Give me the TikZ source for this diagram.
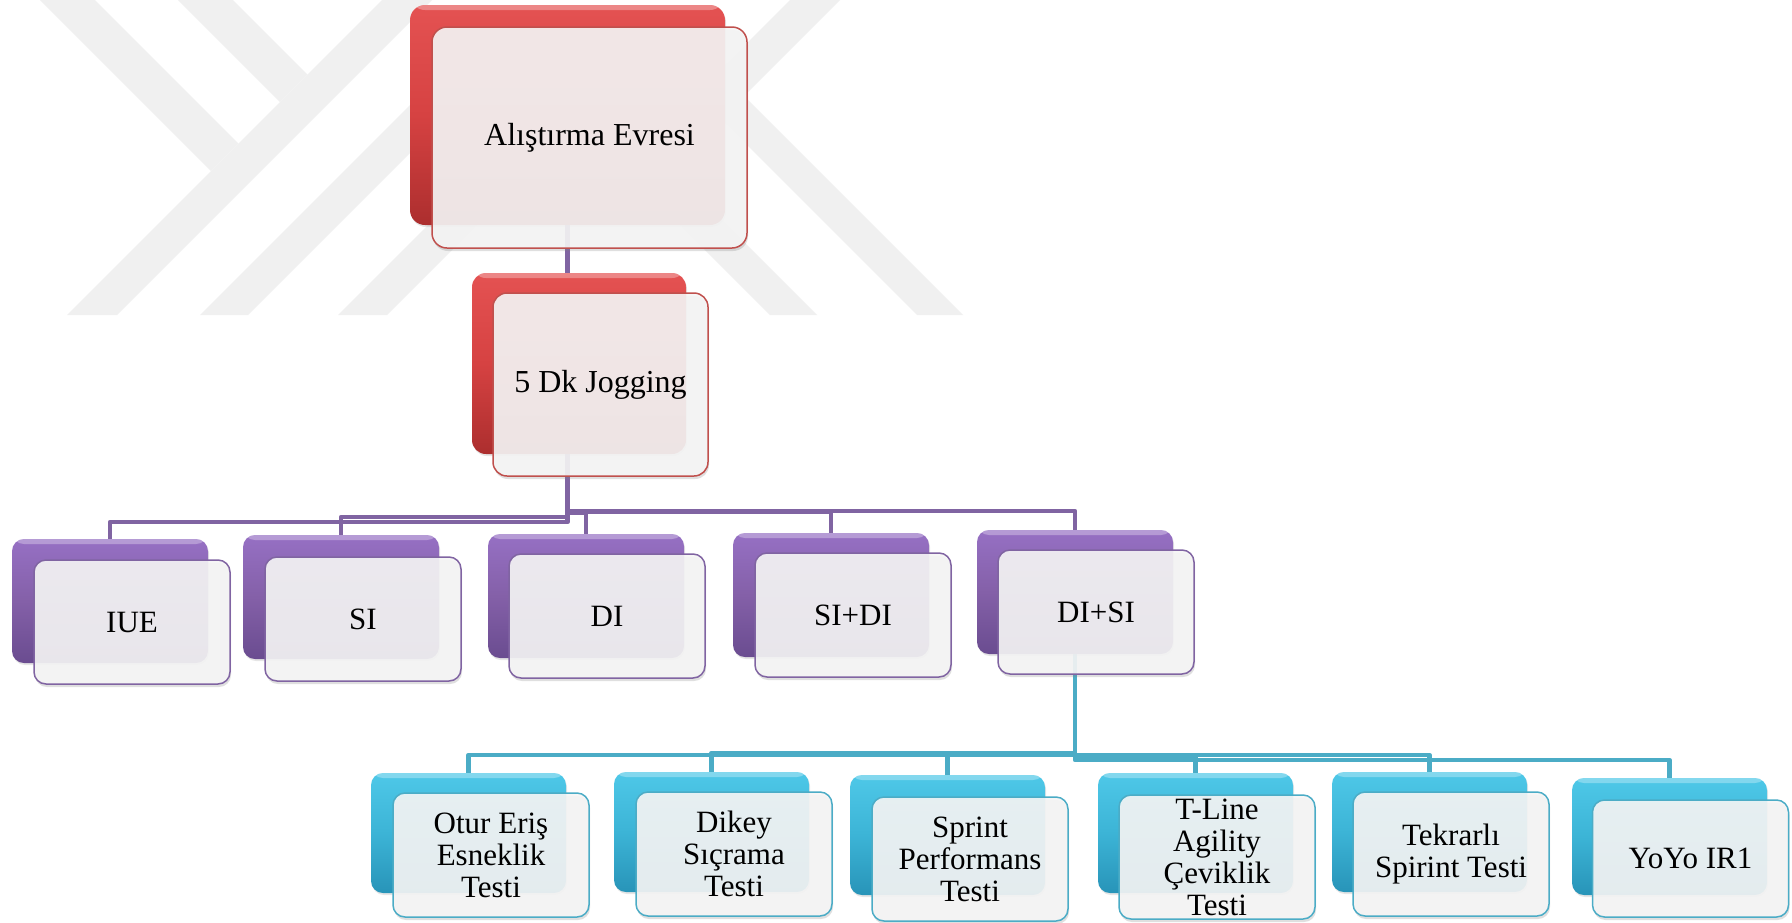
\documentclass[tikz,border=0pt]{standalone}
\usepackage{fontspec}
\setmainfont{Liberation Serif}
\usetikzlibrary{shadows}
\pgfdeclarelayer{wmark}
\pgfdeclarelayer{lines}
\pgfsetlayers{wmark,lines,main}
\definecolor{wm}{RGB}{240,240,240}
\definecolor{redT}{RGB}{228,82,82}
\definecolor{redM}{RGB}{214,66,66}
\definecolor{redB}{RGB}{172,46,46}
\definecolor{redE}{RGB}{192,80,77}
\definecolor{purT}{RGB}{150,112,196}
\definecolor{purM}{RGB}{132,96,168}
\definecolor{purB}{RGB}{106,76,144}
\definecolor{purE}{RGB}{128,100,162}
\definecolor{cyaT}{RGB}{78,200,232}
\definecolor{cyaM}{RGB}{60,180,214}
\definecolor{cyaB}{RGB}{40,148,184}
\definecolor{cyaE}{RGB}{75,172,198}
\definecolor{frontfill}{RGB}{246,246,246}
\tikzset{
  back/.style={rounded corners=12pt, draw=none, inner sep=0pt,
    drop shadow={shadow xshift=1pt, shadow yshift=-2pt, opacity=0.2},
    path picture={\fill[white, opacity=0.3] (path picture bounding box.north west) rectangle ([yshift=-5pt]path picture bounding box.north east);}},
  backred/.style={back, top color=redT, bottom color=redB, middle color=redM},
  backpur/.style={back, top color=purT, bottom color=purB, middle color=purM},
  backcya/.style={back, top color=cyaT, bottom color=cyaB, middle color=cyaM},
  front/.style={rounded corners=12pt, fill=frontfill, fill opacity=0.9, draw opacity=1,
    text opacity=1, line width=1.5pt, inner sep=0pt,
    drop shadow={shadow xshift=1pt, shadow yshift=-3pt, opacity=0.25}},
  frontred/.style={front, draw=redE},
  frontpur/.style={front, draw=purE},
  frontcya/.style={front, draw=cyaE},
  lbl/.style={align=center, inner sep=0pt, text=black, font=\fontsize{31pt}{32pt}\selectfont},
  biglbl/.style={lbl, font=\fontsize{32pt}{34pt}\selectfont},
  pline/.style={line width=4.5pt, draw=purE, line join=round},
  cline/.style={line width=4.5pt, draw=cyaE, line join=round},
  l2/.style={minimum width=196pt, minimum height=124pt},
  l3b/.style={minimum width=195pt, minimum height=120pt},
  l3f/.style={minimum width=196pt, minimum height=124pt},
}
\begin{document}
\begin{tikzpicture}[x=1pt, y=-1pt]
\begin{pgfonlayer}{wmark}
\fill[white] (0,0) rectangle (1792,922);
\begin{scope}
\clip (0,0) rectangle (1000,315);
\fill[wm] (40,0) -- (95,0) -- (238.5,143.5) -- (211,171) -- cycle;
\fill[wm] (178,0) -- (233,0) -- (307.5,74.5) -- (280,102) -- cycle;
\fill[wm] (382,0) -- (432,0) -- (117,315) -- (67,315) -- cycle;
\fill[wm] (495,20) -- (543,20) -- (248,315) -- (200,315) -- cycle;
\fill[wm] (633,20) -- (682,20) -- (387,315) -- (338,315) -- cycle;
\fill[wm] (475,20) -- (522,20) -- (817,315) -- (770,315) -- cycle;
\fill[wm] (662,60) -- (708,60) -- (963,315) -- (917,315) -- cycle;
\fill[wm] (790,0) -- (840,0) -- (720,120) -- (670,120) -- cycle;
\end{scope}
\end{pgfonlayer}
\useasboundingbox (0,0) rectangle (1792,922);

% ---- top: Alıştırma Evresi
\node[backred, minimum width=315pt, minimum height=220pt, rounded corners=15pt] (b0) at (567.5,115) {};
\node[frontred, minimum width=315pt, minimum height=221pt, rounded corners=15pt] (f0) at (589.5,137.5) {};
\node[biglbl] (t0) at (f0) {Alıştırma Evresi};

% ---- 5 Dk Jogging
\node[backred, minimum width=214pt, minimum height=181pt, rounded corners=14pt] (b1) at (579,363.5) {};
\node[frontred, minimum width=215pt, minimum height=183pt, rounded corners=14pt] (f1) at (600.5,384.5) {};
\node[biglbl] (t1) at (f1) {5 Dk Jogging};

% ---- level 2
\node[backpur, l2] (c1) at (110,601) {};
\node[frontpur, l2] (g1) at (132,622) {};
\node[lbl] (s1) at (g1) {IUE};

\node[backpur, l2] (c2) at (341,597) {};
\node[frontpur, l2] (g2) at (363,619) {};
\node[lbl] (s2) at (g2) {SI};

\node[backpur, l2] (c3) at (586,596) {};
\node[frontpur, l2] (g3) at (607,616) {};
\node[lbl] (s3) at (g3) {DI};

\node[backpur, l2] (c4) at (831,595) {};
\node[frontpur, l2] (g4) at (853,615) {};
\node[lbl] (s4) at (g4) {SI+DI};

\node[backpur, l2] (c5) at (1075,592) {};
\node[frontpur, l2] (g5) at (1096,612) {};
\node[lbl] (s5) at (g5) {DI+SI};

% ---- level 3
\node[backcya, l3b] (d1) at (468.5,833) {};
\node[frontcya, l3f] (h1) at (491,855) {};
\node[lbl] (u1) at (h1) {Otur Eriş\\Esneklik\\Testi};

\node[backcya, l3b] (d2) at (711.5,832) {};
\node[frontcya, l3f] (h2) at (734,854) {};
\node[lbl] (u2) at (h2) {Dikey\\Sıçrama\\Testi};

\node[backcya, l3b] (d3) at (947.5,835) {};
\node[frontcya, l3f] (h3) at (970,859) {};
\node[lbl] (u3) at (h3) {Sprint\\Performans\\Testi};

\node[backcya, l3b] (d4) at (1195.5,833) {};
\node[frontcya, l3f] (h4) at (1217,857) {};
\node[lbl] (u4) at (h4) {T-Line\\Agility\\Çeviklik\\Testi};

\node[backcya, l3b] (d5) at (1429.5,832) {};
\node[frontcya, l3f] (h5) at (1451,854) {};
\node[lbl] (u5) at (h5) {Tekrarlı\\Spirint Testi};

\node[backcya, minimum width=195pt, minimum height=117pt] (d6) at (1669.5,836.5) {};
\node[frontcya, minimum width=196pt, minimum height=117pt] (h6) at (1690.5,858.5) {};
\node[lbl] (u6) at (h6) {YoYo IR1};

% ---- connectors (under boxes)
\begin{pgfonlayer}{lines}
\draw[pline] (b0.south) -- (b0.south |- b1.north);
\draw[pline] (b0.south |- b1.south) -- (b0.south |- 0,522) -| (c1.north);
\draw[pline] (b0.south |- b1.south) -- (b0.south |- 0,517) -| (c2.north);
\draw[pline] (b0.south |- b1.south) -- (b0.south |- 0,513) -| (c3.north);
\draw[pline] (b0.south |- b1.south) -- (b0.south |- 0,512) -| (c4.north);
\draw[pline] (b0.south |- b1.south) -- (b0.south |- 0,511) -| (c5.north);
\draw[cline] (c5.south) -- (c5.south |- 0,755) -| (d1.north);
\draw[cline] (c5.south) -- (c5.south |- 0,753) -| (d2.north);
\draw[cline] (c5.south) -- (c5.south |- 0,753) -| (d3.north);
\draw[cline] (c5.south) -- (c5.south |- 0,757) -| (d4.north);
\draw[cline] (c5.south) -- (c5.south |- 0,755) -| (d5.north);
\draw[cline] (c5.south) -- (c5.south |- 0,760) -| (d6.north);
\end{pgfonlayer}
\end{tikzpicture}
\end{document}
